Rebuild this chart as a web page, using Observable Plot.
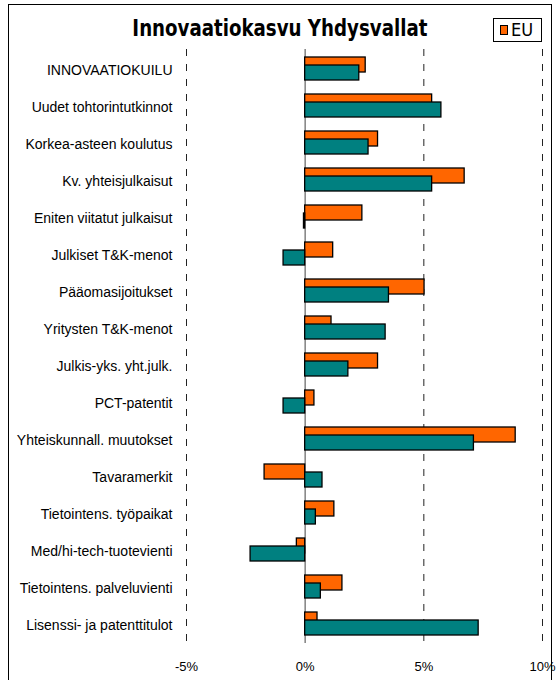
<!DOCTYPE html>
<html>
<head>
<meta charset="utf-8">
<script src="https://cdn.jsdelivr.net/npm/d3@7"></script>
<script src="https://cdn.jsdelivr.net/npm/@observablehq/plot@0.6"></script>
<style>
  body { margin: 0; background: #fff; }
  #wrap { position: relative; width: 556px; height: 680px; overflow: hidden; background: #fff; }
  #frame { position: absolute; left: 8px; top: 4px; width: 544px; height: 700px; border: 1px solid #000; box-sizing: border-box; }
  #chart { position: absolute; left: 0; top: 0; }
  #title { position: absolute; left: 0; width: 556px; top: 14px; text-align: center; padding-left: 2px;
           font-family: "DejaVu Sans Condensed", "DejaVu Sans", sans-serif; font-weight: bold; font-size: 23px; color: #000; line-height: 28px;
           transform: scaleX(0.88); transform-origin: 279px 0; }
  #legend { position: absolute; left: 493px; top: 18px; width: 49px; height: 24px; border: 1px solid #000; box-sizing: border-box; background: #fff;
            font-family: "DejaVu Sans Condensed", "DejaVu Sans", sans-serif; font-size: 18px; line-height: 22px; }
  #legend .sw { position: absolute; left: 6px; top: 6px; width: 8px; height: 10px; background: #FF6600; border: 1px solid #000; box-sizing: border-box; }
  #legend .lb { position: absolute; left: 17px; top: 0px; }
</style>
</head>
<body>
<div id="wrap">
  <div id="frame"></div>
  <div id="chart"></div>
  <div id="title">Innovaatiokasvu Yhdysvallat</div>
  <div id="legend"><span class="sw"></span><span class="lb">EU</span></div>
</div>
<script>
const categories = [
  "INNOVAATIOKUILU",
  "Uudet tohtorintutkinnot",
  "Korkea-asteen koulutus",
  "Kv. yhteisjulkaisut",
  "Eniten viitatut julkaisut",
  "Julkiset T&K-menot",
  "Pääomasijoitukset",
  "Yritysten T&K-menot",
  "Julkis-yks. yht.julk.",
  "PCT-patentit",
  "Yhteiskunnall. muutokset",
  "Tavaramerkit",
  "Tietointens. työpaikat",
  "Med/hi-tech-tuotevienti",
  "Tietointens. palveluvienti",
  "Lisenssi- ja patenttitulot"
];
const euValues = [2.55, 5.35, 3.07, 6.72, 2.41, 1.18, 5.03, 1.11, 3.07, 0.39, 8.87, -1.71, 1.23, -0.35, 1.57, 0.52];
const usValues = [2.28, 5.74, 2.67, 5.35, -0.05, -0.91, 3.53, 3.39, 1.82, -0.91, 7.11, 0.73, 0.45, -2.30, 0.66, 7.31];
const xTicks = [-5, 0, 5, 10];
const legendLabel = "EU";

const rows = categories.map((c, i) => ({category: c, eu: euValues[i], us: usValues[i]}));

const chart = Plot.plot({
  width: 556,
  height: 680,
  marginTop: 49,
  marginBottom: 37,
  marginLeft: 186,
  marginRight: 14,
  style: {fontFamily: "'Liberation Sans', Arial, sans-serif", fontSize: "14px", color: "#000", background: "transparent"},
  x: {domain: [-5, 10]},
  y: {domain: categories, paddingInner: 0.39, paddingOuter: 0.195},
  marks: [
    Plot.ruleX(xTicks.filter(d => d !== 0), {stroke: "#222", strokeWidth: 1, strokeDasharray: "7,8"}),
    Plot.ruleX([0], {stroke: "#808080", strokeWidth: 1.5}),
    Plot.barX(rows, {y: "category", x: "eu", fill: "#FF6600", stroke: "#000", strokeWidth: 1.3, insetBottom: 8}),
    Plot.barX(rows, {y: "category", x: "us", fill: "#008080", stroke: "#000", strokeWidth: 1.3, insetTop: 8}),
    Plot.axisY({tickSize: 0, tickPadding: 14, dy: 2, label: null, fontSize: 14}),
    Plot.axisX({ticks: xTicks, tickFormat: d => d + "%", tickSize: 0, tickPadding: 18, label: null, fontSize: 13})
  ]
});
document.getElementById("legend").querySelector(".lb").textContent = legendLabel;
document.getElementById("chart").appendChild(chart);
</script>
</body>
</html>
